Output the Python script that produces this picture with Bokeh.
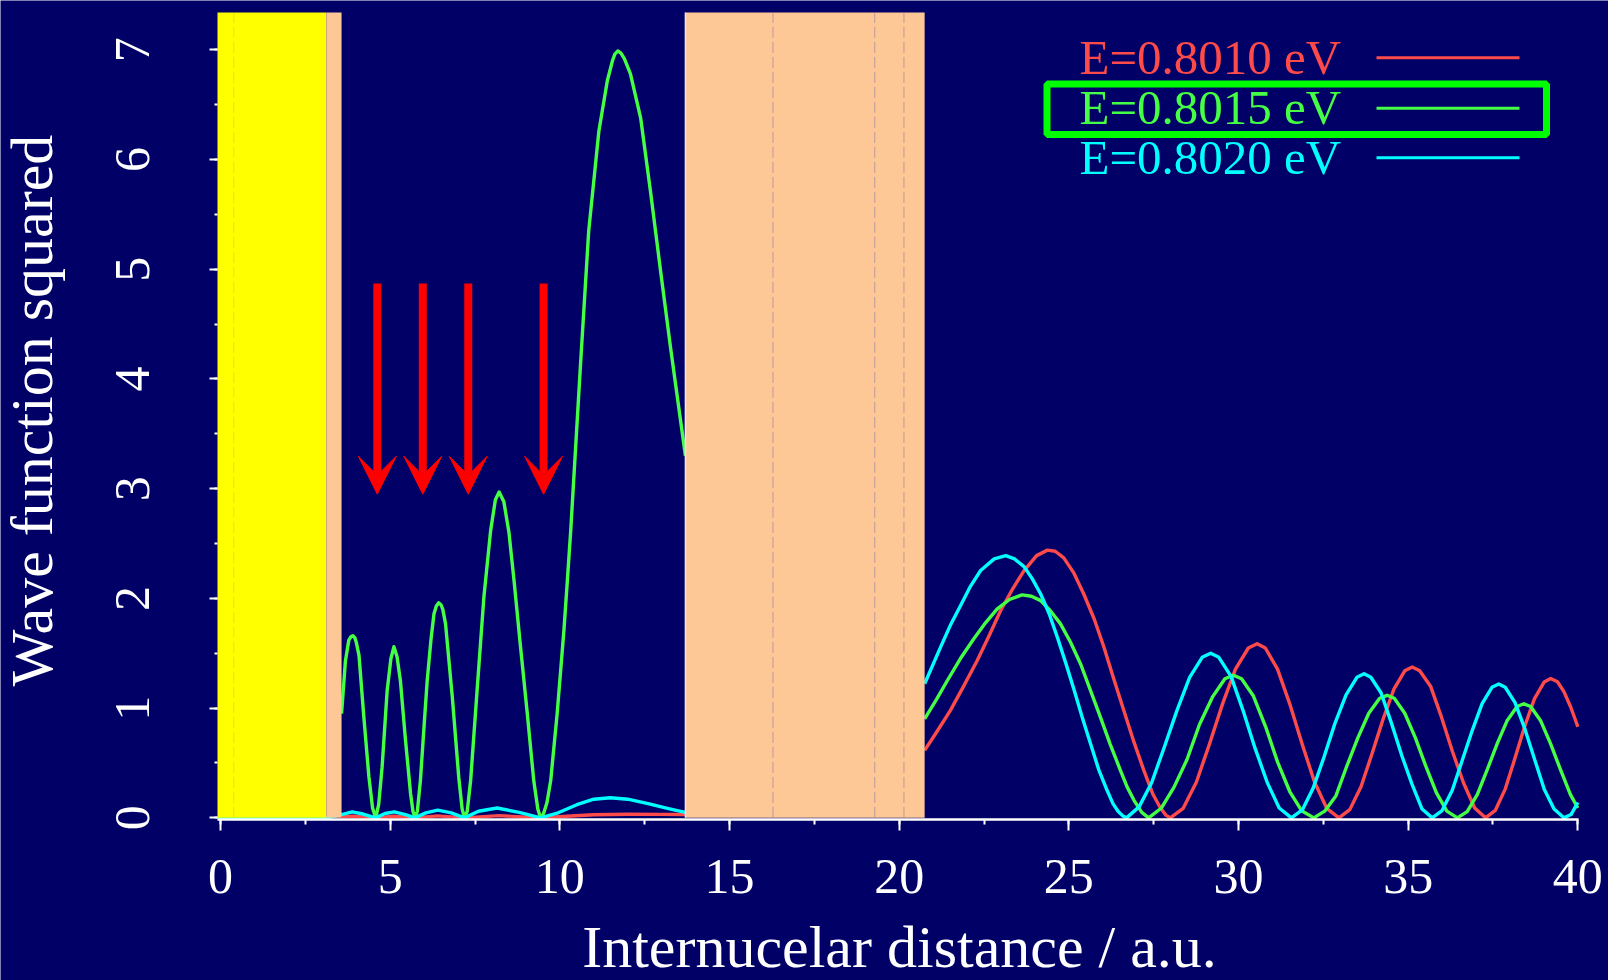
import math
from bokeh.plotting import figure
from bokeh.models import (Range1d, SingleIntervalTicker, Label, BoxAnnotation, LinearAxis,
                          Arrow, VeeHead, ColumnDataSource)
from bokeh.embed import file_html
from bokeh.resources import INLINE

# ---------------- data ----------------
# E = 0.8010 eV (red)
red_left_x = [3.566, 3.9, 4.57, 5.1, 5.73, 6.4, 7.19, 8.2, 9.43, 10.2, 11.0, 12.0, 13.0, 13.70]
red_left_y = [0.01, 0.015, 0.0, 0.015, 0.0, 0.018, 0.0, 0.02, 0.0, 0.015, 0.028, 0.033, 0.032, 0.03]
red_right_x = [20.75, 21.10, 21.51, 21.90, 22.30, 22.65, 22.99, 23.35, 23.68, 24.05, 24.37, 24.60,
               24.85, 25.15, 25.44, 25.75, 26.03, 26.32, 26.62, 26.92, 27.21, 27.47, 27.70, 27.86,
               27.99, 28.37, 28.76, 29.14, 29.53, 29.91, 30.29, 30.55, 30.79, 31.15, 31.51, 31.88,
               32.24, 32.60, 32.96, 33.28, 33.61, 33.93, 34.26, 34.58, 34.90, 35.12, 35.34, 35.66,
               35.98, 36.31, 36.63, 36.96, 37.28, 37.57, 37.86, 38.14, 38.43, 38.72, 39.01, 39.20,
               39.40, 39.59, 39.79, 40.0]
red_right_y = [0.615, 0.78, 0.979, 1.20, 1.434, 1.66, 1.89, 2.09, 2.254, 2.39, 2.44, 2.43,
               2.37, 2.23, 2.04, 1.81, 1.56, 1.27, 0.979, 0.69, 0.433, 0.22, 0.09, 0.025,
               0.0, 0.087, 0.327, 0.669, 1.039, 1.355, 1.548, 1.587, 1.548, 1.355, 1.039, 0.669,
               0.327, 0.087, 0.0, 0.075, 0.283, 0.58, 0.899, 1.173, 1.34, 1.374, 1.34, 1.20,
               0.92, 0.60, 0.32, 0.09, 0.0, 0.069, 0.262, 0.536, 0.831, 1.084, 1.239, 1.27,
               1.24, 1.15, 1.01, 0.83]

# E = 0.8015 eV (green)
green_left_x = [3.566, 3.68, 3.78, 3.84, 3.90, 3.96, 4.00, 4.08, 4.22, 4.37, 4.48, 4.57,
                4.66, 4.76, 4.91, 5.02, 5.11, 5.20, 5.30, 5.45, 5.60, 5.67, 5.73,
                5.80, 5.89, 5.99, 6.09, 6.20, 6.29, 6.36, 6.43, 6.50, 6.55, 6.63, 6.83, 7.02, 7.12, 7.19,
                7.27, 7.37, 7.56, 7.76, 7.96, 8.10, 8.21, 8.35, 8.50, 8.65, 8.84, 9.04, 9.23, 9.35, 9.43,
                9.52, 9.62, 9.73, 9.92, 10.12, 10.22, 10.32, 10.61, 10.85, 11.15, 11.40, 11.55, 11.62,
                11.71, 11.80, 11.90, 12.08, 12.38, 12.67, 12.97, 13.26, 13.50, 13.70]
green_left_y = [0.95, 1.43, 1.62, 1.65, 1.66, 1.64, 1.60, 1.48, 0.93, 0.38, 0.09, 0.0,
                0.12, 0.46, 1.16, 1.45, 1.56, 1.47, 1.25, 0.71, 0.22, 0.06, 0.0,
                0.06, 0.34, 0.80, 1.25, 1.62, 1.86, 1.93, 1.96, 1.94, 1.90, 1.77, 1.10, 0.37, 0.08, 0.0,
                0.06, 0.34, 1.16, 2.01, 2.62, 2.90, 2.97, 2.88, 2.60, 2.16, 1.56, 0.95, 0.34, 0.08, 0.0,
                0.04, 0.14, 0.34, 0.95, 1.71, 2.16, 2.62, 4.14, 5.35, 6.26, 6.72, 6.90, 6.96,
                6.99, 6.97, 6.92, 6.78, 6.38, 5.71, 4.98, 4.29, 3.75, 3.30]
green_right_x = [20.75, 21.10, 21.42, 21.80, 22.20, 22.55, 22.89, 23.25, 23.62, 23.90, 24.17, 24.45,
                 24.75, 25.05, 25.35, 25.64, 25.93, 26.22, 26.52, 26.72, 26.92, 27.15, 27.35,
                 27.73, 28.10, 28.48, 28.85, 29.23, 29.60, 29.85, 30.09, 30.44, 30.80, 31.15, 31.51,
                 31.86, 32.22, 32.54, 32.87, 33.19, 33.52, 33.84, 34.16, 34.38, 34.59, 34.90, 35.21,
                 35.52, 35.83, 36.14, 36.45, 36.74, 37.04, 37.33, 37.63, 37.92, 38.21, 38.41, 38.61,
                 38.90, 39.19, 39.49, 39.78, 40.0]
green_right_y = [0.903, 1.08, 1.252, 1.45, 1.632, 1.78, 1.905, 1.99, 2.032, 2.02, 1.98, 1.89,
                 1.77, 1.60, 1.40, 1.16, 0.918, 0.67, 0.433, 0.28, 0.16, 0.05, 0.0,
                 0.09, 0.28, 0.53, 0.851, 1.10, 1.268, 1.30, 1.268, 1.11, 0.83, 0.51, 0.24,
                 0.065, 0.0, 0.061, 0.20, 0.47, 0.731, 0.953, 1.09, 1.117, 1.09, 0.953, 0.731,
                 0.471, 0.23, 0.061, 0.0, 0.057, 0.214, 0.439, 0.681, 0.888, 1.015, 1.04, 1.015,
                 0.888, 0.681, 0.439, 0.214, 0.09]

# E = 0.8020 eV (cyan)
cyan_left_x = [-0.09, 3.115, 3.566, 3.88, 4.2, 4.57, 4.85, 5.12, 5.45, 5.73, 6.05, 6.40, 6.80, 7.19,
               7.6, 8.15, 8.8, 9.43, 9.9, 10.5, 11.0, 11.49, 12.0, 12.6, 13.2, 13.70]
cyan_left_y = [0.0, 0.0, 0.03, 0.055, 0.035, 0.0, 0.04, 0.055, 0.03, 0.0, 0.045, 0.07, 0.045, 0.0,
               0.06, 0.09, 0.05, 0.0, 0.04, 0.12, 0.17, 0.183, 0.17, 0.13, 0.085, 0.05]
cyan_right_x = [20.75, 21.22, 21.50, 21.81, 22.10, 22.40, 22.80, 23.14, 23.40, 23.68, 23.92, 24.17,
                24.42, 24.66, 24.91, 25.16, 25.40, 25.64, 25.88, 26.13, 26.30, 26.45, 26.58, 26.70,
                27.07, 27.44, 27.82, 28.19, 28.56, 28.93, 29.18, 29.42, 29.78, 30.13, 30.49, 30.85,
                31.20, 31.56, 31.88, 32.20, 32.52, 32.84, 33.17, 33.49, 33.70, 33.90, 34.20, 34.50,
                34.81, 35.11, 35.41, 35.71, 36.00, 36.30, 36.59, 36.89, 37.18, 37.47, 37.67, 37.86,
                38.15, 38.44, 38.73, 39.01, 39.30, 39.59, 39.80, 40.0]
cyan_right_y = [1.222, 1.556, 1.75, 1.935, 2.11, 2.254, 2.36, 2.39, 2.36, 2.29, 2.18, 2.04,
                1.86, 1.647, 1.41, 1.16, 0.91, 0.675, 0.44, 0.249, 0.13, 0.06, 0.02, 0.0,
                0.10, 0.32, 0.65, 0.982, 1.28, 1.463, 1.50, 1.463, 1.29, 0.982, 0.633, 0.32,
                0.09, 0.0, 0.072, 0.271, 0.554, 0.859, 1.121, 1.281, 1.313, 1.281, 1.14, 0.87,
                0.57, 0.31, 0.08, 0.0, 0.066, 0.251, 0.52, 0.798, 1.041, 1.19, 1.22, 1.19,
                1.05, 0.81, 0.53, 0.26, 0.08, 0.0, 0.03, 0.14]

# shaded regions
region_left = [-0.09, 3.115, 13.70]
region_right = [3.115, 3.566, 20.75]
region_colors = ["#ffff00", "#fec896", "#fec896"]
faint_lines_x = [0.39, 16.28, 19.28, 20.14]
faint_lines_alpha = [0.25, 0.7, 0.7, 0.7]

# arrows
arrow_x = [4.62, 5.96, 7.30, 9.52]
arrow_top = [4.87, 4.87, 4.87, 4.87]
arrow_tip = [2.95, 2.95, 2.95, 2.95]

legend_labels = ["E=0.8010 eV", "E=0.8015 eV", "E=0.8020 eV"]
RED, GREEN, CYAN = "#ff4a4a", "#44ff44", "#00ffff"
legend_colors = [RED, GREEN, CYAN]

x_ticks_interval = 5
y_ticks_interval = 1

# ---------------- layout ----------------
W, H = 1608, 980
FL, FR, FT, FB = 217, 1578, 12, 819     # pixel edges of the plotting area
X0, X1 = -0.09, 40.02
Y0, Y1 = -0.015, 7.34
BG = "#000066"
FONT = "Liberation Serif"
SHIFT = 0.35   # baseline correction for labels (in em)
TITLE_SIZE = 60


def px2x(px):
    return X0 + (px - FL) * (X1 - X0) / (FR - FL)


def px2y(py):
    return Y1 - (py - FT) * (Y1 - Y0) / (FB - FT)


p = figure(width=W, height=H, x_range=Range1d(px2x(0), px2x(W)), y_range=Range1d(px2y(H), px2y(0)),
           output_backend="svg", toolbar_location=None, x_axis_location=None, y_axis_location=None,
           min_border=0)
p.background_fill_color = BG
p.border_fill_color = BG
p.outline_line_color = None
p.grid.visible = False

# curves
for xs, ys, c in [(red_left_x, red_left_y, RED), (red_right_x, red_right_y, RED),
                  (green_left_x, green_left_y, GREEN), (green_right_x, green_right_y, GREEN),
                  (cyan_left_x, cyan_left_y, CYAN), (cyan_right_x, cyan_right_y, CYAN)]:
    p.line(xs, ys, line_color=c, line_width=3.4, line_join="round")

# shaded regions over the curves
p.quad(left=region_left, right=region_right, bottom=0, top=Y1,
       fill_color=region_colors, line_color=None)
p.segment(x0=faint_lines_x, y0=0, x1=faint_lines_x, y1=Y1, line_color="#a0849a",
          line_width=1, line_dash="11 4", line_alpha=faint_lines_alpha)
p.segment(x0=[region_left[2]], y0=0, x1=[region_left[2]], y1=Y1, line_color="#e6e6ff", line_width=1.5)

# arrows
src = ColumnDataSource(dict(x=arrow_x, ys=arrow_top, ye=arrow_tip))
p.add_layout(Arrow(end=VeeHead(size=38, fill_color="#ff0000", line_color="#ff0000", line_width=1),
                   x_start="x", y_start="ys", x_end="x", y_end="ye", source=src,
                   line_color="#ff0000", line_width=8))

# axes (fixed at the edges of the plotting area)
xa = LinearAxis(fixed_location=Y0, bounds=(X0, X1))
xa.ticker = SingleIntervalTicker(interval=x_ticks_interval, num_minor_ticks=2)
xa.axis_line_color = "white"
xa.axis_line_width = 2.5
xa.major_tick_line_color = "white"
xa.major_tick_line_width = 2
xa.major_tick_out = 11
xa.major_tick_in = 0
xa.minor_tick_line_color = "white"
xa.minor_tick_line_width = 2
xa.minor_tick_out = 5
xa.minor_tick_in = 0
xa.major_label_text_font = FONT
xa.major_label_text_font_size = "50px"
xa.major_label_text_color = "white"
xa.major_label_standoff = 29
p.add_layout(xa, "below")

ya = LinearAxis(fixed_location=X0, bounds=(Y0, Y1))
ya.ticker = SingleIntervalTicker(interval=y_ticks_interval, num_minor_ticks=2)
ya.axis_line_color = None
ya.major_tick_line_color = "white"
ya.major_tick_line_width = 2
ya.major_tick_out = 8
ya.major_tick_in = 0
ya.minor_tick_line_color = "white"
ya.minor_tick_line_width = 2
ya.minor_tick_out = 3
ya.minor_tick_in = 0
ya.major_label_text_font = FONT
ya.major_label_text_font_size = "50px"
ya.major_label_text_color = "white"
ya.major_label_orientation = "vertical"
ya.major_label_standoff = 60
p.add_layout(ya, "left")

# axis titles
p.add_layout(Label(x=px2x(899), y=px2y(967 - SHIFT * TITLE_SIZE), text="Internucelar distance / a.u.",
                   text_align="center", text_baseline="alphabetic", text_font=FONT,
                   text_font_size=f"{TITLE_SIZE}px", text_color="white"))
p.add_layout(Label(x=px2x(52 - SHIFT * TITLE_SIZE), y=px2y(410), text="Wave function squared",
                   angle=math.pi / 2, text_align="center", text_baseline="alphabetic", text_font=FONT,
                   text_font_size=f"{TITLE_SIZE}px", text_color="white"))

# legend
text_base = [74, 124, 174]
line_y = [57.3, 107.7, 157.3]
for lab, col, tb, ly in zip(legend_labels, legend_colors, text_base, line_y):
    p.add_layout(Label(x=px2x(1079), y=px2y(tb - SHIFT * 49), text=lab, text_align="left",
                       text_baseline="alphabetic", text_font=FONT, text_font_size="49px",
                       text_color=col))
    p.segment(x0=[px2x(1376)], y0=[px2y(ly)], x1=[px2x(1519)], y1=[px2y(ly)],
              line_color=col, line_width=3)
p.add_layout(BoxAnnotation(left=px2x(1046.5), right=px2x(1546), top=px2y(83.5), bottom=px2y(134),
                           fill_alpha=0, line_color="#00ff00", line_alpha=1, line_width=7))

open("out.html", "w").write(file_html(p, INLINE))
